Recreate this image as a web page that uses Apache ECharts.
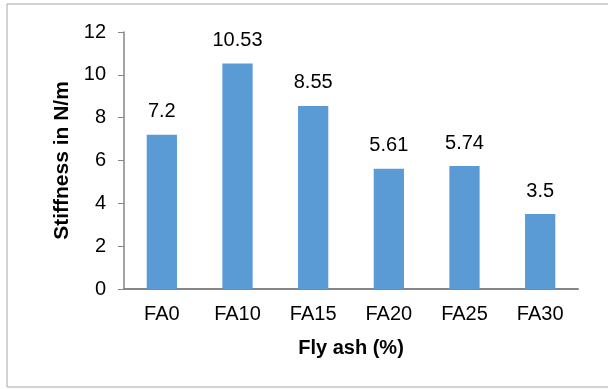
<!DOCTYPE html>
<html>
<head>
<meta charset="utf-8">
<script src="https://cdn.jsdelivr.net/npm/echarts@6/dist/echarts.min.js"></script>
<style>
  html, body { margin: 0; padding: 0; background: #fff; }
  #chart { width: 608px; height: 389px; }
</style>
</head>
<body>
<div id="chart"></div>
<script>
// Stiffness of mixes with increasing fly ash content
const categories = ['FA0', 'FA10', 'FA15', 'FA20', 'FA25', 'FA30'];
const stiffness = [7.2, 10.53, 8.55, 5.61, 5.74, 3.5];
const yTicks = [0, 2, 4, 6, 8, 10, 12];

const font = 'Liberation Sans, Arial, sans-serif';
const chart = echarts.init(document.getElementById('chart'));

chart.setOption({
  animation: false,
  backgroundColor: '#fff',
  graphic: [{
    type: 'rect',
    shape: { x: 7, y: 4, width: 700, height: 383 },
    style: { fill: 'none', stroke: '#a6a6a6', lineWidth: 1 },
    silent: true
  }],
  grid: { left: 124, right: 30, top: 32, bottom: 100 },
  xAxis: {
    type: 'category',
    data: categories,
    name: 'Fly ash (%)',
    nameLocation: 'middle',
    nameGap: 49,
    nameTextStyle: { fontFamily: font, fontSize: 20, fontWeight: 'bold', color: '#000' },
    axisLine: { lineStyle: { color: '#868686', width: 2 } },
    axisTick: { show: false },
    axisLabel: { fontFamily: font, fontSize: 20, color: '#000', margin: 15 }
  },
  yAxis: {
    type: 'value',
    min: yTicks[0],
    max: yTicks[yTicks.length - 1],
    interval: yTicks[1] - yTicks[0],
    name: 'Stiffness in N/m',
    nameLocation: 'middle',
    nameGap: 48,
    nameTextStyle: { fontFamily: font, fontSize: 21, fontWeight: 'bold', color: '#000' },
    splitLine: { show: false },
    axisLine: { show: true, lineStyle: { color: '#868686', width: 1.5 } },
    axisTick: { show: true, length: 6, lineStyle: { color: '#868686' } },
    axisLabel: { fontFamily: font, fontSize: 20, color: '#000', margin: 18 }
  },
  series: [{
    type: 'bar',
    data: stiffness,
    barWidth: '40%',
    itemStyle: { color: '#5b9bd5' },
    label: {
      show: true,
      position: 'top',
      distance: 13,
      fontFamily: font,
      fontSize: 20,
      color: '#000'
    }
  }]
});
</script>
</body>
</html>
